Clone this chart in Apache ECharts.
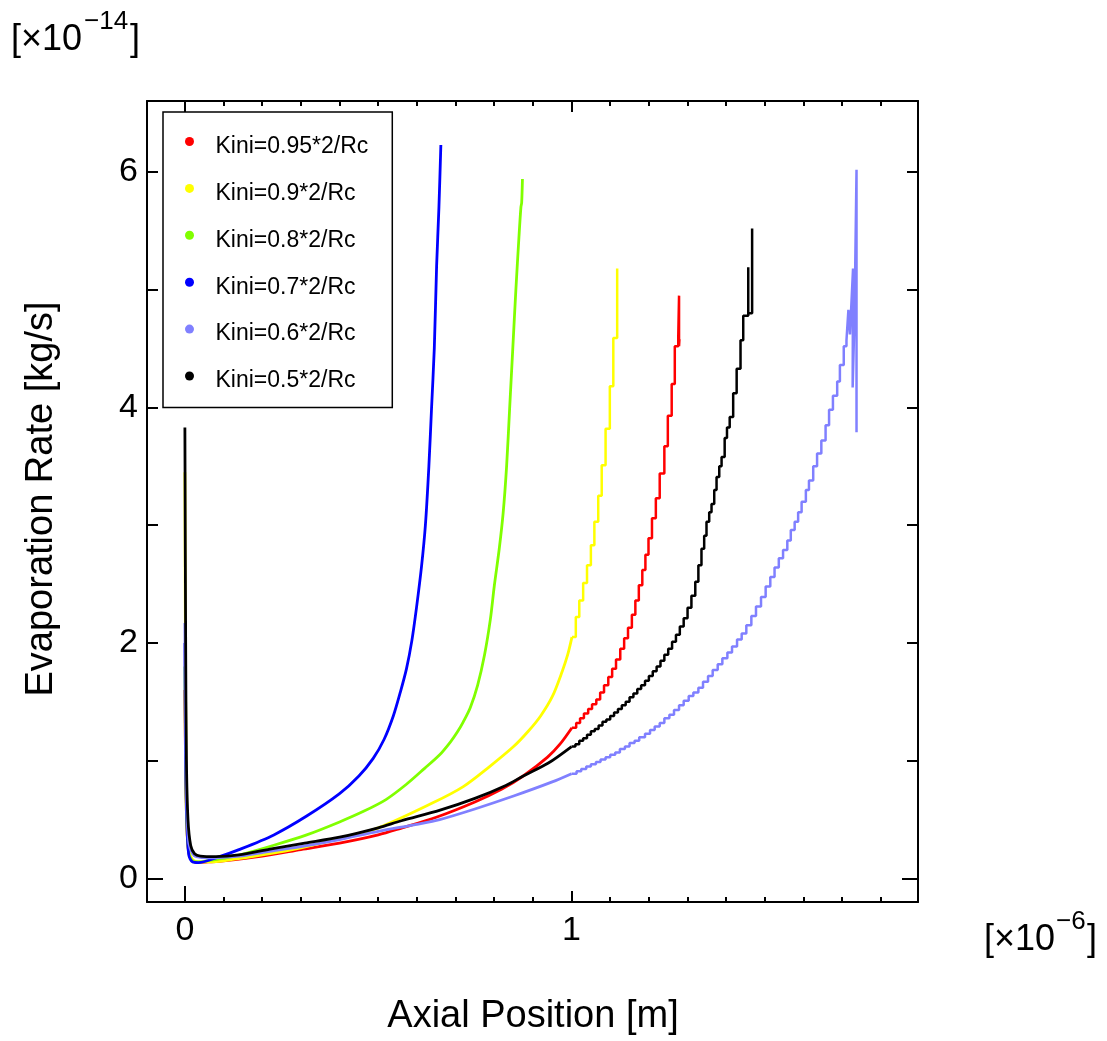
<!DOCTYPE html>
<html><head><meta charset="utf-8">
<script src="https://cdn.jsdelivr.net/npm/echarts@6/dist/echarts.min.js"></script>
<style>html,body{margin:0;padding:0;background:#fff}#c{width:1107px;height:1041px}</style>
</head><body><div id="c"></div>
<script>
const FONT = 'Liberation Sans, Arial, sans-serif';
const seriesNames = ['Kini=0.95*2/Rc','Kini=0.9*2/Rc','Kini=0.8*2/Rc','Kini=0.7*2/Rc','Kini=0.6*2/Rc','Kini=0.5*2/Rc'];
const seriesColors = ['#ff0000','#ffff00','#80ff00','#0000ff','#8080ff','#000000'];
const xLabelValues = [0, 1];
const xMajorTicks = [1];
const xMinorTicks = [0.1,0.2,0.3,0.4,0.5,0.6,0.7,0.8,0.9,1.1,1.2,1.3,1.4,1.5,1.6,1.7,1.8];
const yLabelValues = [0, 2, 4, 6];
const yMajorTicks = [1, 2, 3, 4, 5, 6];
const zeroTick = [0];

// Kini=0.95*2/Rc (red)
const redSmooth = [[0,1.6],[0.002,0.9],[0.005,0.45],[0.01,0.22],[0.02,0.15],[0.035,0.135],[0.06,0.14],[0.1,0.15],[0.2,0.19],[0.3,0.245],[0.4,0.30],[0.5,0.37],[0.562,0.43],[0.65,0.52],[0.75,0.65],[0.82,0.76],[0.875,0.87],[0.938,1.03],[0.97,1.14],[1.001,1.28]];
const redSteps = [[1.001,1.28],[1.012,1.32],[1.022,1.36],[1.032,1.40],[1.043,1.44],[1.053,1.48],[1.064,1.52],[1.074,1.58],[1.084,1.64],[1.095,1.71],[1.105,1.78],[1.115,1.86],[1.126,1.95],[1.136,2.04],[1.146,2.13],[1.156,2.24],[1.165,2.36],[1.174,2.49],[1.183,2.62],[1.191,2.75],[1.199,2.89],[1.208,3.06],[1.218,3.23],[1.228,3.44],[1.240,3.67],[1.249,3.93],[1.259,4.20],[1.267,4.52],[1.276,4.61],[1.278,4.95],[1.278,4.52],[1.279,4.58]];

// Kini=0.9*2/Rc (yellow)
const yellowSmooth = [[0,3.45],[0.002,1.5],[0.005,0.6],[0.01,0.25],[0.02,0.16],[0.04,0.14],[0.07,0.14],[0.1,0.15],[0.2,0.2],[0.3,0.26],[0.4,0.34],[0.5,0.43],[0.64,0.64],[0.72,0.78],[0.788,0.95],[0.85,1.12],[0.888,1.25],[0.92,1.38],[0.951,1.55],[0.976,1.76],[0.99,1.90],[1.001,2.05]];
const yellowSteps = [[1.001,2.05],[1.011,2.22],[1.020,2.36],[1.030,2.51],[1.040,2.66],[1.050,2.83],[1.059,3.03],[1.069,3.25],[1.078,3.51],[1.088,3.82],[1.099,4.18],[1.108,4.59],[1.118,4.66],[1.118,5.18]];

// Kini=0.8*2/Rc (green)
const greenSmooth = [[0,1.8],[0.002,0.9],[0.005,0.45],[0.01,0.22],[0.02,0.15],[0.04,0.14],[0.056,0.15],[0.1,0.17],[0.142,0.2],[0.228,0.28],[0.315,0.37],[0.4,0.48],[0.462,0.57],[0.52,0.67],[0.573,0.80],[0.62,0.935],[0.659,1.05],[0.687,1.16],[0.705,1.245],[0.72,1.33],[0.738,1.45],[0.757,1.64],[0.775,1.90],[0.79,2.2],[0.80,2.48],[0.813,2.8],[0.823,3.1],[0.832,3.5],[0.840,4.0],[0.848,4.5],[0.856,5.0],[0.864,5.45],[0.869,5.7],[0.871,5.74],[0.873,5.94]];
const greenSteps = [];

// Kini=0.7*2/Rc (blue)
const blueSmooth = [[0,2.0],[0.002,1.0],[0.005,0.5],[0.01,0.2],[0.02,0.14],[0.035,0.135],[0.08,0.175],[0.14,0.245],[0.23,0.37],[0.315,0.53],[0.40,0.72],[0.45,0.87],[0.487,1.02],[0.515,1.18],[0.539,1.38],[0.557,1.58],[0.573,1.78],[0.587,2.02],[0.599,2.3],[0.612,2.65],[0.622,3.0],[0.631,3.5],[0.638,4.0],[0.645,4.5],[0.651,5.2],[0.657,5.7],[0.662,6.23]];
const blueSteps = [];

// Kini=0.6*2/Rc (lavender)
const lavenderSmooth = [[0,2.17],[0.002,1.2],[0.005,0.6],[0.01,0.3],[0.02,0.21],[0.03,0.185],[0.06,0.175],[0.1,0.18],[0.142,0.19],[0.2,0.22],[0.3,0.27],[0.4,0.33],[0.5,0.40],[0.6,0.46],[0.659,0.50],[0.75,0.59],[0.85,0.70],[0.95,0.82],[1.0,0.89]];
const lavenderSteps = [[1.000,0.89],[1.013,0.91],[1.025,0.93],[1.038,0.95],[1.050,0.97],[1.063,0.99],[1.075,1.01],[1.088,1.03],[1.100,1.05],[1.113,1.07],[1.125,1.10],[1.138,1.12],[1.150,1.15],[1.163,1.17],[1.175,1.20],[1.190,1.23],[1.203,1.26],[1.215,1.29],[1.228,1.32],[1.240,1.36],[1.253,1.39],[1.265,1.43],[1.278,1.47],[1.290,1.51],[1.303,1.55],[1.315,1.58],[1.328,1.62],[1.340,1.67],[1.353,1.72],[1.365,1.77],[1.378,1.82],[1.390,1.87],[1.403,1.92],[1.415,1.97],[1.428,2.03],[1.440,2.08],[1.452,2.15],[1.465,2.23],[1.477,2.31],[1.490,2.39],[1.502,2.48],[1.514,2.56],[1.525,2.64],[1.536,2.72],[1.547,2.79],[1.558,2.87],[1.567,2.96],[1.577,3.03],[1.586,3.11],[1.595,3.20],[1.606,3.30],[1.614,3.38],[1.625,3.50],[1.635,3.61],[1.646,3.72],[1.657,3.85],[1.666,3.98],[1.676,4.10],[1.687,4.22],[1.694,4.36],[1.704,4.52],[1.711,4.57],[1.716,4.83],[1.720,4.62],[1.724,4.90],[1.728,5.18],[1.727,4.17],[1.732,4.80],[1.737,6.02],[1.737,3.79]];

// Kini=0.5*2/Rc (black)
const blackSmooth = [[0,3.83],[0.002,2.0],[0.004,1.0],[0.008,0.5],[0.015,0.28],[0.025,0.21],[0.04,0.19],[0.08,0.185],[0.14,0.20],[0.22,0.25],[0.31,0.30],[0.40,0.35],[0.50,0.43],[0.56,0.49],[0.66,0.58],[0.75,0.68],[0.83,0.79],[0.875,0.87],[0.94,0.98],[1.0,1.12]];
const blackSteps = [[1.000,1.12],[1.010,1.14],[1.020,1.17],[1.030,1.19],[1.040,1.22],[1.050,1.25],[1.060,1.27],[1.070,1.30],[1.080,1.33],[1.090,1.35],[1.100,1.38],[1.110,1.41],[1.120,1.44],[1.130,1.47],[1.140,1.50],[1.150,1.54],[1.160,1.57],[1.170,1.61],[1.180,1.64],[1.190,1.68],[1.200,1.72],[1.210,1.76],[1.220,1.80],[1.230,1.85],[1.240,1.90],[1.250,1.95],[1.260,2.01],[1.270,2.07],[1.280,2.14],[1.290,2.21],[1.300,2.30],[1.310,2.40],[1.320,2.52],[1.328,2.66],[1.336,2.80],[1.343,2.91],[1.349,3.03],[1.356,3.11],[1.362,3.18],[1.369,3.30],[1.375,3.41],[1.382,3.50],[1.388,3.58],[1.396,3.74],[1.402,3.83],[1.409,3.92],[1.418,4.12],[1.427,4.33],[1.437,4.57],[1.444,4.78],[1.457,4.81],[1.457,5.19],[1.457,4.80],[1.467,4.80],[1.467,5.52],[1.467,4.80]];

const smoothData = [redSmooth, yellowSmooth, greenSmooth, blueSmooth, lavenderSmooth, blackSmooth];
const stepData = [redSteps, yellowSteps, greenSteps, blueSteps, lavenderSteps, blackSteps];

const X_MIN = -0.098, X_MAX = 1.896, Y_MIN = -0.2, Y_MAX = 6.603;

const series = [];
seriesNames.forEach((name, i) => {
  const base = {type:'line', name, showSymbol:false, symbol:'none', animation:false,
    lineStyle:{width:2.8, color:seriesColors[i]}, itemStyle:{color:seriesColors[i]}, xAxisIndex:0, yAxisIndex:0};
  series.push(Object.assign({}, base, {data: smoothData[i], smooth:0.3}));
  if (stepData[i].length) series.push(Object.assign({}, base, {data: stepData[i], step:'end', lineStyle:{width:2.5, color:seriesColors[i]}}));
});

const lineStyle = {color:'#000', width:2};
function xAx(position, ticks, len, showLine, labels) {
  return {type:'value', gridIndex:0, position, min:X_MIN, max:X_MAX,
    axisLine:{show:showLine, onZero:false, lineStyle},
    axisTick:{show:true, inside:true, length:len, customValues:ticks, lineStyle},
    axisLabel: labels ? {show:true, customValues:labels, fontSize:34, fontFamily:FONT, color:'#000', margin:12} : {show:false},
    splitLine:{show:false}};
}
function yAx(position, ticks, len, showLine, labels) {
  return {type:'value', gridIndex:0, position, min:Y_MIN, max:Y_MAX,
    axisLine:{show:showLine, onZero:false, lineStyle},
    axisTick:{show:true, inside:true, length:len, customValues:ticks, lineStyle},
    axisLabel: labels ? {show:true, customValues:labels, fontSize:34, fontFamily:FONT, color:'#000', margin:9} : {show:false},
    splitLine:{show:false}};
}

function txt(text, x, y, size, extra) {
  return Object.assign({type:'text', x, y, silent:true,
    style:{text, fontSize:size, fontFamily:FONT, fill:'#000', textAlign:'left', textVerticalAlign:'middle', align:'left', verticalAlign:'middle'}}, extra||{});
}

const option = {
  backgroundColor:'#fff',
  animation:false,
  grid:{left:147, top:101, width:771, height:801, containLabel:false, outerBoundsMode:'none'},
  xAxis:[
    xAx('bottom', xMajorTicks, 11, true, xLabelValues),
    xAx('bottom', xMinorTicks, 5, false, null),
    xAx('bottom', zeroTick, 16, false, null),
    xAx('top', xMajorTicks, 11, true, null),
    xAx('top', xMinorTicks, 5, false, null),
    xAx('top', zeroTick, 16, false, null)
  ],
  yAxis:[
    yAx('left', yMajorTicks, 11, true, yLabelValues),
    yAx('left', zeroTick, 16, false, null),
    yAx('right', yMajorTicks, 11, true, null),
    yAx('right', zeroTick, 16, false, null)
  ],
  legend:{
    data: seriesNames, orient:'vertical', left:163, top:112,
    padding:[13,24,15,22], itemGap:13.9, itemWidth:42, itemHeight:9, icon:'circle',
    backgroundColor:'#fff', borderColor:'#000', borderWidth:1.5, borderRadius:0,
    selectedMode:false,
    formatter: '{t|{name}}',
    textStyle:{fontFamily:FONT, fontSize:23, color:'#000',
      rich:{t:{fontFamily:FONT, fontSize:23, color:'#000', lineHeight:26, padding:[10,0,0,0]}}}
  },
  series,
  graphic:[
    txt('Evaporation Rate [kg/s]', 42, 499, 38, {rotation:Math.PI/2, style:{text:'Evaporation Rate [kg/s]', fontSize:38, fontFamily:FONT, fill:'#000', textAlign:'center', textVerticalAlign:'middle', align:'center', verticalAlign:'middle'}}),
    txt('Axial Position [m]', 533, 1017, 38, {style:{text:'Axial Position [m]', fontSize:38, fontFamily:FONT, fill:'#000', textAlign:'center', textVerticalAlign:'middle', align:'center', verticalAlign:'middle'}}),
    txt('[\u00d710', 11, 40, 36),
    txt('\u221214', 84, 22, 26),
    txt(']', 130, 40, 36),
    txt('[\u00d710', 984, 940, 36),
    txt('\u22126', 1056, 922, 26),
    txt(']', 1087, 940, 36)
  ]
};
const chart = echarts.init(document.getElementById('c'), null, {renderer:'canvas'});
chart.setOption(option);
</script>
</body></html>
